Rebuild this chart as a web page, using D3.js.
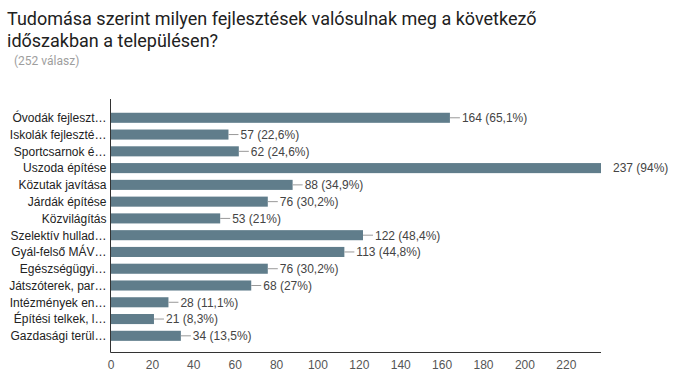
<!DOCTYPE html>
<html>
<head>
<meta charset="utf-8">
<script src="https://cdn.jsdelivr.net/npm/d3@7"></script>
<style>
  body { margin: 0; background: #fff; }
  svg { display: block; }
</style>
</head>
<body>
<div id="chart"></div>
<script>
// Adatok
var categories = ["Óvodák fejleszt…", "Iskolák fejleszté…", "Sportcsarnok é…", "Uszoda építése",
  "Közutak javítása", "Járdák építése", "Közvilágítás", "Szelektív hullad…", "Gyál-felső MÁV…",
  "Egészségügyi…", "Játszóterek, par…", "Intézmények en…", "Építési telkek, l…", "Gazdasági terül…"];
var values = [164, 57, 62, 237, 88, 76, 53, 122, 113, 76, 68, 28, 21, 34];
var percents = ["65,1", "22,6", "24,6", "94", "34,9", "30,2", "21", "48,4", "44,8", "30,2", "27", "11,1", "8,3", "13,5"];
var tickValues = [0, 20, 40, 60, 80, 100, 120, 140, 160, 180, 200, 220];

var width = 676, height = 381;
var barColor = "#607d8b";

var svg = d3.select("#chart")
  .append("svg")
    .attr("width", width)
    .attr("height", height);

// Cím
svg.append("text")
  .attr("x", 7).attr("y", 25)
  .style("font-family", "Roboto, sans-serif")
  .style("font-size", "18px")
  .style("fill", "#212121")
  .text("Tudomása szerint milyen fejlesztések valósulnak meg a következő");
svg.append("text")
  .attr("x", 7).attr("y", 47)
  .style("font-family", "Roboto, sans-serif")
  .style("font-size", "18px")
  .style("fill", "#212121")
  .text("időszakban a településen?");
svg.append("text")
  .attr("x", 14).attr("y", 65)
  .style("font-family", "Roboto, sans-serif")
  .style("font-size", "12px")
  .style("fill", "#9e9e9e")
  .text("(252 válasz)");

var x = d3.scaleLinear()
  .domain([0, 237])
  .range([110.5, 601]);

var y = d3.scaleBand()
  .domain(categories)
  .range([109.4, 344.2])
  .paddingInner(0.4)
  .paddingOuter(0.2);

var data = categories.map(function(c, i) {
  return {cat: c, val: values[i], pct: percents[i]};
});

// Oszlopok
svg.append("g").selectAll("rect")
  .data(data)
  .enter()
  .append("rect")
    .attr("x", x(0))
    .attr("y", function(d) { return y(d.cat); })
    .attr("width", function(d) { return x(d.val) - x(0); })
    .attr("height", y.bandwidth())
    .attr("fill", barColor);

// Vezetővonalak + értékek
var right = x.range()[1];
svg.append("g").selectAll("line")
  .data(data)
  .enter()
  .append("line")
    .attr("x1", function(d) { return x(d.val); })
    .attr("x2", function(d) { return Math.min(x(d.val) + 10, right); })
    .attr("y1", function(d) { return y(d.cat) + y.bandwidth() / 2; })
    .attr("y2", function(d) { return y(d.cat) + y.bandwidth() / 2; })
    .attr("stroke", "#999")
    .attr("stroke-width", 1);

svg.append("g").selectAll("text")
  .data(data)
  .enter()
  .append("text")
    .attr("x", function(d) { return x(d.val) + 12; })
    .attr("y", function(d) { return y(d.cat) + y.bandwidth() / 2; })
    .attr("dy", "0.36em")
    .style("font-family", "Arial, 'Liberation Sans', sans-serif")
    .style("font-size", "12px")
    .style("fill", "#444")
    .text(function(d) { return d.val + " (" + d.pct + "%)"; });

// Kategória címkék
svg.append("g").selectAll("text")
  .data(data)
  .enter()
  .append("text")
    .attr("x", 106.5)
    .attr("y", function(d) { return y(d.cat) + y.bandwidth() / 2; })
    .attr("dy", "0.36em")
    .attr("text-anchor", "end")
    .style("font-family", "Arial, 'Liberation Sans', sans-serif")
    .style("font-size", "12px")
    .style("fill", "#222")
    .text(function(d) { return d.cat; });

// Tengelyek
var xAxis = svg.append("g")
  .attr("transform", "translate(0,352.5)")
  .call(d3.axisBottom(x).tickValues(tickValues).tickSize(0).tickPadding(8).tickFormat(d3.format("d")));
xAxis.select(".domain").attr("stroke", "#333").attr("d", "M" + x(0) + ",0H" + right);
xAxis.selectAll("text")
  .style("font-family", "Arial, 'Liberation Sans', sans-serif")
  .style("font-size", "12px")
  .style("fill", "#555");

svg.append("line")
  .attr("x1", x(0)).attr("x2", x(0))
  .attr("y1", 99).attr("y2", 352.5)
  .attr("stroke", "#333");
</script>
</body>
</html>
